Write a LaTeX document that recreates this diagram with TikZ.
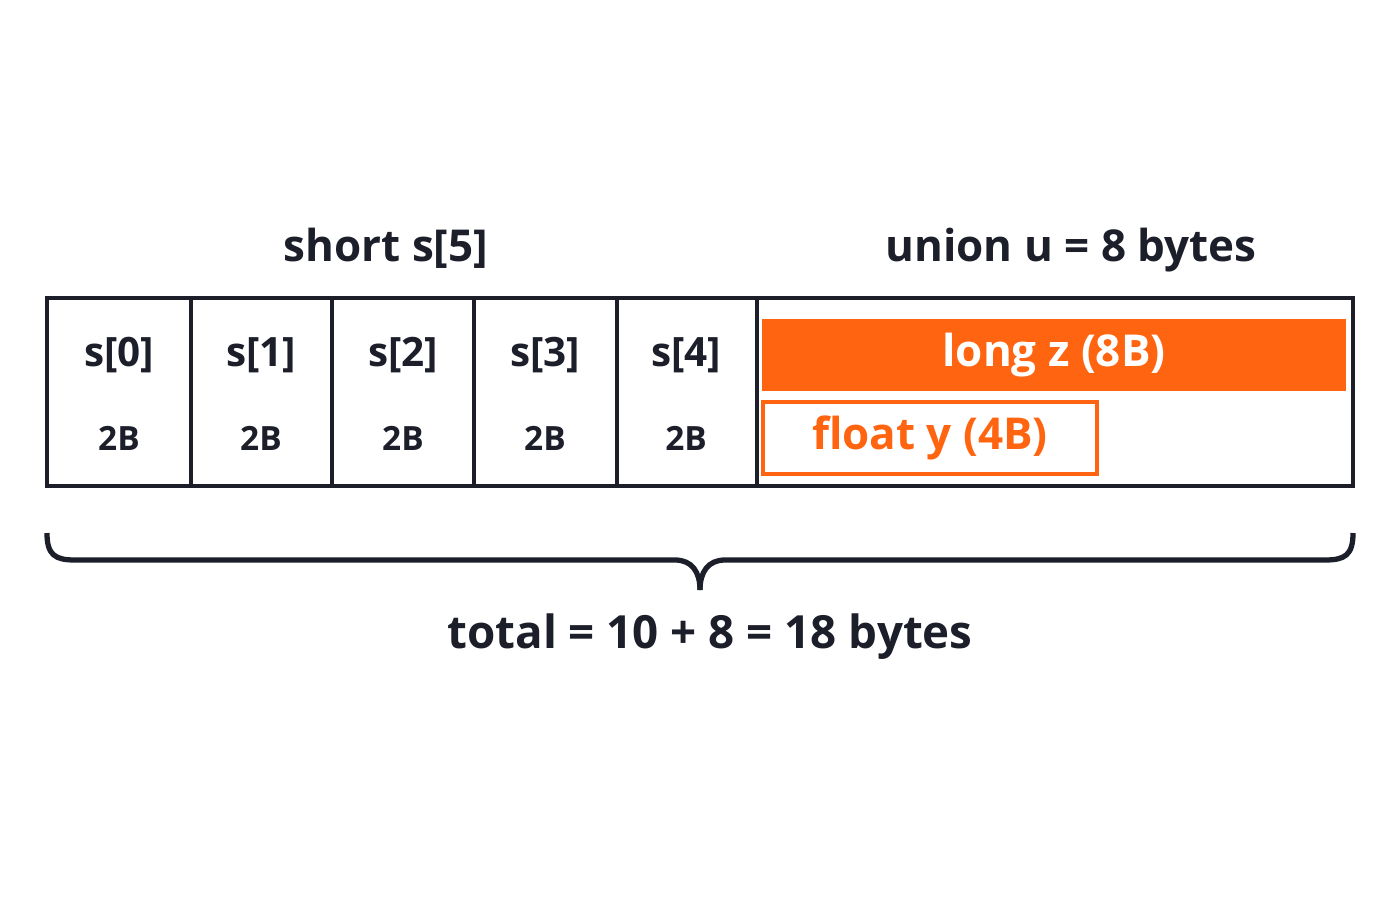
\documentclass[tikz,border=0pt]{standalone}
\usepackage{fontspec}
\setmainfont{Open Sans}
\definecolor{org}{HTML}{FF6510}
\definecolor{ink}{HTML}{1C1F2A}
\begin{document}
\begin{tikzpicture}[x=0.01cm,y=-0.01cm,
  lbl/.style={text=ink,font=\bfseries\fontsize{11.5}{13}\selectfont},
  sz/.style={text=ink,font=\bfseries\fontsize{9.5}{11}\selectfont},
  ttl/.style={text=ink,font=\bfseries\fontsize{12.5}{15}\selectfont}]
\useasboundingbox (0,0) rectangle (1400,900);
\node[draw=ink,line width=1.3pt,minimum width=1306*0.01cm,minimum height=188*0.01cm,inner sep=0] (outer) at (700,392) {};
\foreach \x in {191,332,474,617,757} \draw[ink,line width=1.3pt] (\x,298) -- (\x,486);
\foreach \i/\x in {0/119,1/261,2/403,3/545,4/686}{
  \node[lbl] (s\i) at (\x,355) {s[\i]};
  \node[sz] (b\i) at (\x,438) {2B};}
\node[ttl] (short) at (386,248) {short s[5]};
\node[ttl] (union) at (1071,250) {union u = 8 bytes};
\node[fill=org,minimum width=584*0.01cm,minimum height=72*0.01cm,inner sep=0,text=white,font=\bfseries\fontsize{12.5}{15}\selectfont] (z) at (1054,355) {long z (8B)};
\node[draw=org,line width=1.3pt,minimum width=334*0.01cm,minimum height=72*0.01cm,inner sep=0,text=org,font=\bfseries\fontsize{12.5}{15}\selectfont] (y) at (930,438) {float y (4B)};
\coordinate (bl) at (47,533);
\coordinate (br) at (1353,533);
\coordinate (tip) at (700,590);
\draw[ink,line width=1.5pt] (bl) .. controls (47,555) and (55,560) .. (75,560) -- (675,560) .. controls (692,560) and (700,572) .. (tip);
\draw[ink,line width=1.5pt] (br) .. controls (1353,555) and (1345,560) .. (1325,560) -- (725,560) .. controls (708,560) and (700,572) .. (tip);
\node[ttl,font=\bfseries\fontsize{13}{15}\selectfont] (total) at (710,637) {total = 10 + 8 = 18 bytes};
\end{tikzpicture}
\end{document}
